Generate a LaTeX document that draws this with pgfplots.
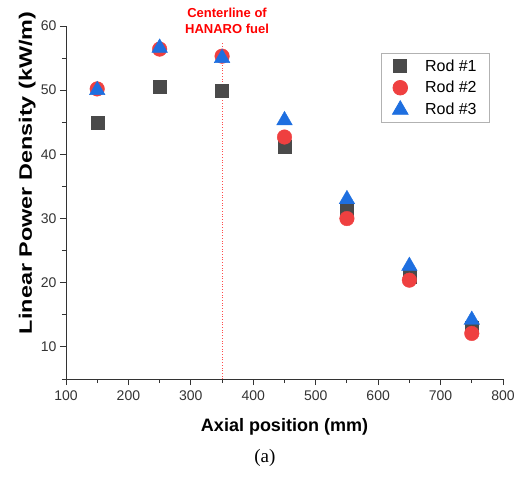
\documentclass[border=0pt]{standalone}
\usepackage{pgfplots}
\pgfplotsset{compat=1.18}
\usepackage{fontspec}
\setmainfont{Liberation Sans}
\newfontfamily\capfont{Liberation Serif}

\definecolor{rodgray}{HTML}{4A4A4A}
\definecolor{rodred}{HTML}{EF4040}
\definecolor{rodblue}{HTML}{1E6FE0}
\definecolor{axgray}{HTML}{333333}

\begin{document}
\begin{tikzpicture}
\path[use as bounding box] (-66pt,-97pt) rectangle (463pt,379pt);
\begin{axis}[
	scale only axis,
	width=437pt,
	height=353pt,
	xmin=100, xmax=800,
	ymin=5, ymax=60,
	xtick={100,200,...,800},
	ytick={10,20,...,60},
	minor xtick={150,250,...,750},
	minor ytick={5,15,...,55},
	axis lines*=left,
	xtick pos=bottom,
	ytick pos=left,
	axis line style={axgray, line width=0.9pt},
	every tick/.style={draw=axgray, line width=0.9pt},
	tick align=outside,
	major tick length=6pt,
	minor tick length=4pt,
	/pgf/number format/assume math mode=true,
	ticklabel style={font=\fontsize{14}{16}\selectfont, text=axgray},
	xticklabel style={yshift=-2pt},
	xlabel={\textbf{Axial position (mm)}},
	ylabel={\scalebox{1.3}[1]{\textbf{Linear Power Density (kW/m)}}},
	label style={font=\fontsize{18}{20}\selectfont},
	xlabel style={at={(axis description cs:0.5,-0.136)}, anchor=center},
	ylabel style={at={(axis description cs:-0.089,0.584)}, anchor=center, rotate=0},
	legend style={at={(rel axis cs:0.721,0.923)}, anchor=north west,
		draw=gray!60, line width=0.8pt, font=\fontsize{16}{18}\selectfont,
		row sep=4.5pt, column sep=15pt, inner xsep=11pt, inner ysep=4pt},
	legend cell align=left,
	clip=false,
]

% centerline of the fuel
\addplot[red!70, dotted, line width=0.7pt, forget plot] coordinates {(350,5) (350,57.5)};

\addplot[only marks, mark=square*, mark size=6.5pt, color=rodgray, mark options={fill=rodgray}] coordinates {
	(150,44.9)
	(250,50.5)
	(350,49.9)
	(450,41.2)
	(550,31.3)
	(650,21.0)
	(750,13.0)};
\addlegendentry{Rod \#1}

\addplot[only marks, mark=*, mark size=7.3pt, color=rodred, mark options={fill=rodred}] coordinates {
	(150,50.2)
	(250,56.4)
	(350,55.3)
	(450,42.7)
	(550,30.0)
	(650,20.4)
	(750,12.1)};
\addlegendentry{Rod \#2}

\addplot[only marks, mark=triangle*, mark size=9pt, color=rodblue, mark options={fill=rodblue}] coordinates {
	(150,50.0)
	(250,56.6)
	(350,55.0)
	(450,45.3)
	(550,33.0)
	(650,22.6)
	(750,14.2)};
\addlegendentry{Rod \#3}

\node[text=red, font=\bfseries\fontsize{13}{16}\selectfont, align=center] at (axis cs:358,60.8) {Centerline of\\HANARO fuel};
\node[font=\capfont\fontsize{19}{21}\selectfont] at (rel axis cs:0.455,-0.224) {(a)};
\end{axis}
\end{tikzpicture}
\end{document}
